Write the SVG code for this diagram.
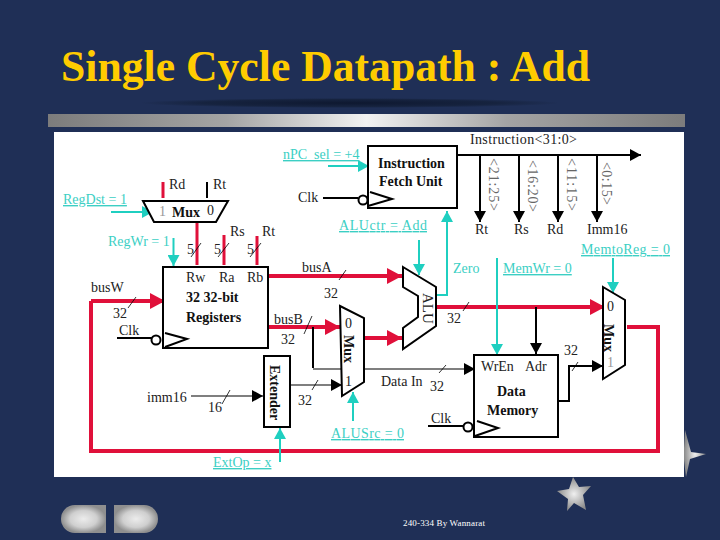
<svg xmlns="http://www.w3.org/2000/svg" width="720" height="540" viewBox="0 0 720 540">
<defs>
<linearGradient id="band" x1="0" x2="1" y1="0" y2="0"><stop offset="0" stop-color="#7c7c7c"/><stop offset="0.28" stop-color="#a4a4a4"/><stop offset="0.5" stop-color="#f2f2f2"/><stop offset="0.72" stop-color="#a4a4a4"/><stop offset="1" stop-color="#7c7c7c"/></linearGradient>
<radialGradient id="btn"><stop offset="0" stop-color="#ececec"/><stop offset="0.6" stop-color="#cfcfcf"/><stop offset="1" stop-color="#8f8f8f"/></radialGradient>
<radialGradient id="shadow"><stop offset="0" stop-color="#0e1830"/><stop offset="0.7" stop-color="#16233f"/><stop offset="1" stop-color="#1f2f56"/></radialGradient>
<radialGradient id="star"><stop offset="0" stop-color="#f0f0f0"/><stop offset="1" stop-color="#8a8a8a"/></radialGradient>
<marker id="hk" markerUnits="userSpaceOnUse" markerWidth="12" markerHeight="12" refX="11" refY="6" orient="auto"><path d="M0 0L11 6L0 12z" fill="#000"/></marker>
<marker id="ht" markerUnits="userSpaceOnUse" markerWidth="12" markerHeight="12" refX="11" refY="6" orient="auto"><path d="M0 0L11 6L0 12z" fill="#1fcfc0"/></marker>
<marker id="hr" markerUnits="userSpaceOnUse" markerWidth="16" markerHeight="16" refX="15" refY="8" orient="auto"><path d="M0 0L15 8L0 16z" fill="#e0103a"/></marker>
</defs>
<style>
text{font-family:"Liberation Serif","Times New Roman",serif;font-size:14px;fill:#222}
.b{font-weight:bold;fill:#111;font-size:14px}
.t{fill:#3ccfc4}
.u{text-decoration:underline}
.g{fill:#666}
.box{fill:#fff;stroke:#000;stroke-width:2}
.r{fill:none;stroke:#e0103a;stroke-width:4}
.k{fill:none;stroke:#000;stroke-width:2}
.k1{fill:none;stroke:#000;stroke-width:1.2}
.c{fill:none;stroke:#1fcfc0;stroke-width:2}
.s{fill:none;stroke:#000;stroke-width:.8}
.clk{fill:#fff;stroke:#000;stroke-width:2}
</style>
<rect width="720" height="540" fill="#1f2f56"/>
<ellipse cx="350" cy="103" rx="210" ry="5" fill="url(#shadow)"/>
<rect x="48" y="114" width="637" height="13" fill="url(#band)"/>
<rect x="54" y="132" width="630" height="345" fill="#fff"/>
<text x="61" y="81" textLength="529" lengthAdjust="spacingAndGlyphs" style="font-size:44px;font-weight:bold;fill:#ffcc00">Single Cycle Datapath : Add</text>

<g id="connectors">
<path class="r" d="M163 182V198M197 220V265M224 235V265M257 236V265" style="stroke-width:3"/>
<path class="k" d="M207 182V198"/>
<path class="c" d="M111 212H153" marker-end="url(#ht)"/>
<path class="c" d="M173.500 238V266" marker-end="url(#ht)"/>
<path class="c" d="M328 166H369" marker-end="url(#ht)"/>
<path class="k" d="M323 198H358"/>
<path class="k" d="M457 155H641" marker-end="url(#hk)"/>
<path class="k" d="M480 155V222" marker-end="url(#hk)"/>
<path class="k" d="M519 155V222" marker-end="url(#hk)"/>
<path class="k" d="M558 155V222" marker-end="url(#hk)"/>
<path class="k" d="M597 155V222" marker-end="url(#hk)"/>
<path class="r" d="M91 301V451H658V327H627"/>
<path class="r" d="M91 301H165" marker-end="url(#hr)"/>
<path class="r" d="M268 276H402" marker-end="url(#hr)"/>
<path class="r" d="M268 327H340" marker-end="url(#hr)"/>
<path class="r" d="M364 338H402" marker-end="url(#hr)"/>
<path class="r" d="M432 307H605" marker-end="url(#hr)"/>
<path class="k" d="M313 327V368"/>
<path class="k1" d="M313 369H475" marker-end="url(#hk)"/>
<path class="k1" d="M191 396H263" marker-end="url(#hk)"/>
<path class="k1" d="M290 385H342" marker-end="url(#hk)"/>
<path class="k" d="M117 338H152M428 426H464"/>
<path class="c" d="M419 240V275" marker-end="url(#ht)"/>
<path class="c" d="M436 295H447V211" marker-end="url(#ht)"/>
<path class="c" d="M497 258V355" marker-end="url(#ht)"/>
<path class="k" d="M536 307V354" marker-end="url(#hk)"/>
<path class="k" d="M558 401H569V366H603" marker-end="url(#hk)"/>
<path class="c" d="M613 258V293" marker-end="url(#ht)"/>
<path class="c" d="M353 421V392" marker-end="url(#ht)"/>
<path class="c" d="M280 462V428" marker-end="url(#ht)"/>
<path class="s" d="M191 257L201 243M218 257L229 243M250 257L261 243M339 280L346 270M128 308L136 297M304 334L312 316M312 390L318 380M222 404L230 390M439 373L446 365M463 311L469 302M572 371L578 362"/>
</g>

<g id="mux-regdst"><path class="box" d="M143 201H228L216 222H154z"/>
<text x="159" y="216" style="fill:#999">1</text><text x="172" y="217" class="b">Mux</text><text x="207" y="215">0</text></g>
<g id="registers"><rect class="box" x="163" y="267" width="105" height="81"/>
<text x="186" y="282">Rw</text><text x="219" y="282">Ra</text><text x="247" y="282">Rb</text>
<text x="186" y="302" class="b">32 32-bit</text><text x="186" y="322" class="b">Registers</text>
<circle class="clk" cx="156" cy="340" r="4.500"/><path class="k" d="M165 333L187 339L165 347"/></g>
<g id="fetch"><rect class="box" x="368" y="146" width="89" height="62"/>
<text x="378" y="168" class="b">Instruction</text><text x="379" y="186" class="b">Fetch Unit</text>
<circle class="clk" cx="363" cy="200" r="4.500"/><path class="k" d="M370 192L392 199L368 206"/></g>
<g id="alu"><path class="box" d="M403 267L436 287V326L403 349V328L418 317V296L403 287z"/>
<text transform="translate(423 293) rotate(90)" style="font-size:15px">ALU</text></g>
<g id="mux-alusrc"><path class="box" d="M340 306L364 318V382L342 396z"/>
<text x="345" y="328">0</text><text transform="translate(344 335) rotate(90)" class="b">Mux</text><text x="345" y="386">1</text></g>
<g id="extender"><rect class="box" x="264" y="356" width="26" height="71"/>
<text transform="translate(270 365) rotate(90)" class="b">Extender</text></g>
<g id="data-memory"><rect class="box" x="474" y="355" width="84" height="82"/>
<text x="481" y="371">WrEn</text><text x="525" y="371">Adr</text>
<text x="497" y="396" class="b">Data</text><text x="487" y="415" class="b">Memory</text>
<circle class="clk" cx="468" cy="427" r="4.500"/><path class="k" d="M477 421L498 428L475 436"/></g>
<g id="mux-memtoreg"><path class="box" d="M603 287L625 300V365L603 379z"/>
<text x="607" y="311">0</text><text transform="translate(604 324) rotate(90)" class="b">Mux</text><text x="607" y="367" style="fill:#999">1</text></g>

<g id="labels">
<text x="169" y="189">Rd</text><text x="213" y="189">Rt</text>
<text x="230" y="236">Rs</text><text x="262" y="236">Rt</text>
<text x="187" y="254">5</text><text x="214" y="254">5</text><text x="247" y="254">5</text>
<text x="63" y="204" class="t u">RegDst = 1</text>
<text x="108" y="246" class="t">RegWr = 1</text>
<text x="283" y="159" class="t u">nPC_sel = +4</text>
<text x="298" y="202">Clk</text>
<text x="339" y="230" class="t u" textLength="88">ALUctr = Add</text>
<text x="470" y="144" textLength="107">Instruction&lt;31:0&gt;</text>
<text transform="translate(489 158) rotate(90)" class="g" textLength="53">&lt;21:25&gt;</text>
<text transform="translate(528 160) rotate(90)" class="g" textLength="52">&lt;16:20&gt;</text>
<text transform="translate(567 158) rotate(90)" class="g" textLength="53">&lt;11:15&gt;</text>
<text transform="translate(602 162) rotate(90)" class="g" textLength="43">&lt;0:15&gt;</text>
<text x="475" y="234">Rt</text><text x="514" y="234">Rs</text><text x="547" y="234">Rd</text><text x="587" y="234">Imm16</text>
<text x="581" y="254" class="t u" textLength="89">MemtoReg = 0</text>
<text x="453" y="273" class="t">Zero</text>
<text x="503" y="273" class="t u">MemWr = 0</text>
<text x="302" y="272">busA</text><text x="324" y="298">32</text>
<text x="91" y="292">busW</text><text x="113" y="318">32</text>
<text x="119" y="335">Clk</text>
<text x="274" y="324">busB</text><text x="281" y="344">32</text>
<text x="447" y="323">32</text>
<text x="564" y="355">32</text>
<text x="381" y="386">Data In</text><text x="430" y="391">32</text>
<text x="431" y="423">Clk</text>
<text x="147" y="402">imm16</text><text x="208" y="412">16</text>
<text x="298" y="405">32</text>
<text x="331" y="438" class="t u" textLength="73">ALUSrc = 0</text>
<text x="213" y="467" class="t u">ExtOp = x</text>
</g>

<path d="M685 430L691 452L706 454L690 459L686 477L684 460L684 448z" fill="url(#star)"/>
<path d="M573 477L579 487L591 486L583 495L586 510L574 503L567 511L568 499L557 491L569 489z" fill="url(#star)"/>
<path d="M75 505H106V533H75A14 14 0 0 1 75 505z" fill="url(#btn)"/>
<path d="M114 505H144A14 14 0 0 1 144 533H114z" fill="url(#btn)"/>
<text x="403" y="526" style="font-size:9px;fill:#fff" textLength="82">240-334 By Wannarat</text>
</svg>
